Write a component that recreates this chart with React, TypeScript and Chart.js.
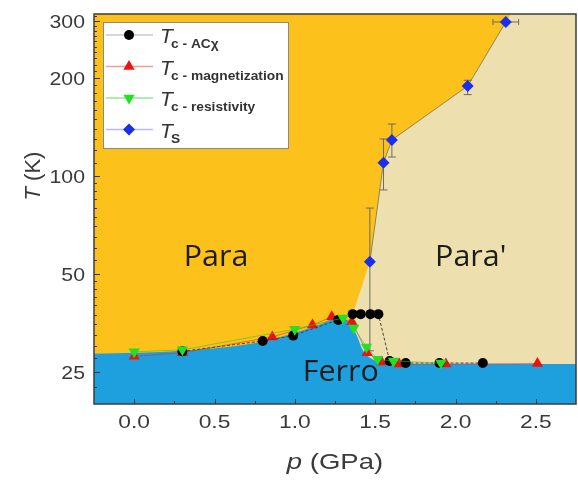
import React, { useEffect, useRef } from "react";
import { Chart, registerables } from "chart.js";

Chart.register(...registerables);

// Axis ranges
const P_MIN = -0.25;
const P_MAX = 2.75;
const T_MIN = 19.9;
const T_MAX = 315;

const pTicks = [0, 0.5, 1, 1.5, 2, 2.5];
const pMinorTicks = [0.25, 0.75, 1.25, 1.75, 2.25];
const tTicks = [25, 50, 100, 200, 300];

// Tc from AC susceptibility
const acP = [0.3, 0.8, 0.99, 1.27, 1.36, 1.41, 1.47, 1.52, 1.59, 1.69, 1.9, 2.17];
const acT = [28.9, 31.1, 32.3, 36.1, 37.6, 37.6, 37.6, 37.6, 27.0, 26.6, 26.6, 26.6];

// Tc from magnetization
const magP = [0.0, 0.3, 0.86, 1.11, 1.23, 1.355, 1.45, 1.54, 1.65, 1.94, 2.51];
const magT = [27.9, 28.6, 32.0, 34.8, 36.9, 35.6, 28.6, 26.8, 26.4, 26.4, 26.5];

// Tc from resistivity
const resP = [0.0, 0.3, 1.0, 1.3, 1.367, 1.446, 1.515, 1.614, 1.909];
const resT = [28.8, 29.2, 33.8, 36.6, 34.1, 29.8, 27.3, 27.0, 26.6];

// Structural transition Ts with error bars
const tsP = [1.467, 1.552, 1.604, 2.076, 2.313];
const tsT = [54.5, 109.9, 129.1, 189.2, 297.7];
const tsLow = [29.0, 90.6, 114.4, 178, 297.7];
const tsHigh = [79.7, 130, 144.5, 197, 297.7];
const tsPErr = [0, 0, 0, 0, 0.08];

// Phase boundaries
const ferroP = [-0.25, 0.3, 0.8, 1.16, 1.26, 1.31, 1.35, 1.39, 1.42, 1.45, 1.49, 1.56, 2.75];
const ferroT = [28.4, 29.0, 31.0, 35.0, 36.6, 36.4, 34.8, 32.0, 29.3, 28.1, 27.2, 26.4, 26.4];
const paraPrimeP = [1.36, 1.467, 1.552, 1.604, 2.076, 2.313, 2.345, 2.75];
const paraPrimeT = [37.6, 54.5, 109.9, 129.1, 189.2, 297.7, 315, 315];

// Phase names
const phaseNames = ["Para", "Para'", "Ferro"];
const phaseP = [0.51, 2.095, 1.286];
const phaseT = [55.9, 55.9, 24.8];

const ORANGE = "rgb(252,193,26)";
const BEIGE = "rgb(238,224,174)";
const BLUE = "rgb(30,160,222)";
const TEXT = "#3a3a3a";
const SANS = '"Liberation Sans", Arial, sans-serif';
const STRETCH = 1.2;

const pts = (xs: number[], ys: number[]) => xs.map((x, i) => ({ x, y: ys[i] }));

const FERRO_INDEX = 2;

const legendItems = [
  { sub: "c - ACχ", line: "#c9c9c9", style: "circle", color: "#000" },
  { sub: "c - magnetization", line: "#f59a9a", style: "up", color: "#ee1111" },
  { sub: "c - resistivity", line: "#8fea8f", style: "down", color: "#22e022" },
  { sub: "S", line: "#b9b9ee", style: "diamond", color: "#1a2ef0" },
];

function marker(ctx: CanvasRenderingContext2D, style: string, x: number, y: number, color: string) {
  ctx.save();
  ctx.fillStyle = color;
  ctx.beginPath();
  if (style === "circle") {
    ctx.arc(x, y, 5, 0, Math.PI * 2);
  } else if (style === "up" || style === "down") {
    const r = 6.5;
    const base = style === "up" ? 0 : Math.PI;
    for (let k = 0; k < 3; k++) {
      const a = base + (k * 2 * Math.PI) / 3;
      const px = x + Math.sin(a) * r;
      const py = y - Math.cos(a) * r;
      if (k === 0) ctx.moveTo(px, py);
      else ctx.lineTo(px, py);
    }
    ctx.closePath();
  } else {
    const r = 6;
    ctx.moveTo(x, y - r);
    ctx.lineTo(x + r, y);
    ctx.lineTo(x, y + r);
    ctx.lineTo(x - r, y);
    ctx.closePath();
  }
  ctx.fill();
  ctx.restore();
}

// Text made of differently styled runs, centred on x, widened by sx
function mixedText(
  ctx: CanvasRenderingContext2D,
  parts: { t: string; f: string }[],
  x: number,
  y: number,
  sx: number
) {
  let w = 0;
  for (const p of parts) {
    ctx.font = p.f;
    w += ctx.measureText(p.t).width;
  }
  ctx.save();
  ctx.translate(x, y);
  ctx.scale(sx, 1);
  let cx = -w / 2;
  ctx.textAlign = "left";
  for (const p of parts) {
    ctx.font = p.f;
    ctx.fillText(p.t, cx, 0);
    cx += ctx.measureText(p.t).width;
  }
  ctx.restore();
}

function wideText(
  ctx: CanvasRenderingContext2D,
  t: string,
  x: number,
  y: number,
  align: CanvasTextAlign,
  sx: number
) {
  ctx.save();
  ctx.translate(x, y);
  ctx.scale(sx, 1);
  ctx.textAlign = align;
  ctx.fillText(t, 0, 0);
  ctx.restore();
}

const overlay = {
  id: "overlay",
  afterDatasetDraw(chart: any, args: any) {
    if (args.index !== FERRO_INDEX) return;
    const ctx: CanvasRenderingContext2D = chart.ctx;
    const xs = chart.scales.x;
    const ys = chart.scales.y;
    ctx.save();
    // phase names
    ctx.fillStyle = "#1c1c1c";
    ctx.font = '29px "Open Sans", sans-serif';
    ctx.textBaseline = "middle";
    phaseNames.forEach((name, i) => {
      wideText(ctx, name, xs.getPixelForValue(phaseP[i]), ys.getPixelForValue(phaseT[i]), "center", 1.05);
    });
    // Ts error bars
    ctx.strokeStyle = "#6a6a6a";
    ctx.lineWidth = 1;
    tsP.forEach((p, i) => {
      const px = xs.getPixelForValue(p);
      const py = ys.getPixelForValue(tsT[i]);
      if (tsHigh[i] !== tsLow[i]) {
        const y1 = ys.getPixelForValue(tsLow[i]);
        const y2 = ys.getPixelForValue(tsHigh[i]);
        ctx.beginPath();
        ctx.moveTo(px, y1);
        ctx.lineTo(px, y2);
        ctx.moveTo(px - 4, y1);
        ctx.lineTo(px + 4, y1);
        ctx.moveTo(px - 4, y2);
        ctx.lineTo(px + 4, y2);
        ctx.stroke();
      }
      if (tsPErr[i] > 0) {
        const x1 = xs.getPixelForValue(p - tsPErr[i]);
        const x2 = xs.getPixelForValue(p + tsPErr[i]);
        ctx.beginPath();
        ctx.moveTo(x1, py);
        ctx.lineTo(x2, py);
        ctx.moveTo(x1, py - 3);
        ctx.lineTo(x1, py + 3);
        ctx.moveTo(x2, py - 3);
        ctx.lineTo(x2, py + 3);
        ctx.stroke();
      }
    });
    ctx.restore();
  },
  afterDraw(chart: any) {
    const ctx: CanvasRenderingContext2D = chart.ctx;
    const a = chart.chartArea;
    const xs = chart.scales.x;
    const ys = chart.scales.y;
    ctx.save();

    // inward tick marks
    ctx.strokeStyle = "#333";
    ctx.lineWidth = 1;
    ctx.beginPath();
    pTicks.forEach((v) => {
      const x = Math.round(xs.getPixelForValue(v)) + 0.5;
      ctx.moveTo(x, a.bottom);
      ctx.lineTo(x, a.bottom - 5);
    });
    pMinorTicks.forEach((v) => {
      const x = Math.round(xs.getPixelForValue(v)) + 0.5;
      ctx.moveTo(x, a.bottom);
      ctx.lineTo(x, a.bottom - 3);
    });
    const minor: number[] = [];
    for (let t = 22.5; t < 50; t += 2.5) minor.push(t);
    for (let t = 55; t < 100; t += 5) minor.push(t);
    for (let t = 110; t <= 310; t += 10) minor.push(t);
    minor.forEach((v) => {
      const y = Math.round(ys.getPixelForValue(v)) + 0.5;
      ctx.moveTo(a.left, y);
      ctx.lineTo(a.left + 3, y);
    });
    tTicks.forEach((v) => {
      const y = Math.round(ys.getPixelForValue(v)) + 0.5;
      ctx.moveTo(a.left, y);
      ctx.lineTo(a.left + 6, y);
    });
    ctx.stroke();

    // frame
    ctx.strokeStyle = "#3c3c3c";
    ctx.lineWidth = 1.5;
    ctx.strokeRect(a.left, a.top, a.right - a.left, a.bottom - a.top);

    // tick labels
    ctx.fillStyle = TEXT;
    ctx.textBaseline = "alphabetic";
    ctx.font = `19px ${SANS}`;
    pTicks.forEach((v) => {
      wideText(ctx, v.toFixed(1), xs.getPixelForValue(v), 428, "center", STRETCH);
    });
    tTicks.forEach((v) => {
      wideText(ctx, String(v), 85, ys.getPixelForValue(v) + 7, "right", 1.12);
    });

    // axis titles
    mixedText(
      ctx,
      [
        { t: "p", f: `italic 22px ${SANS}` },
        { t: " (GPa)", f: `22px ${SANS}` },
      ],
      (a.left + a.right) / 2,
      469,
      1.25
    );
    ctx.save();
    ctx.translate(34, ys.getPixelForValue(100));
    ctx.rotate(-Math.PI / 2);
    ctx.textBaseline = "middle";
    mixedText(
      ctx,
      [
        { t: "T", f: `italic 22px ${SANS}` },
        { t: " (K)", f: `22px ${SANS}` },
      ],
      0,
      0,
      1
    );
    ctx.restore();

    // legend
    const lx = 103, ly = 22, lw = 185, lh = 126;
    ctx.fillStyle = "#fff";
    ctx.fillRect(lx, ly, lw, lh);
    ctx.strokeStyle = "#8a8a8a";
    ctx.lineWidth = 1;
    ctx.strokeRect(lx + 0.5, ly + 0.5, lw, lh);
    legendItems.forEach((it, i) => {
      const ry = 35 + i * 31.5;
      ctx.strokeStyle = it.line;
      ctx.lineWidth = 1.5;
      ctx.beginPath();
      ctx.moveTo(106, ry);
      ctx.lineTo(153, ry);
      ctx.stroke();
      marker(ctx, it.style, 129, ry, it.color);
      ctx.fillStyle = "#333";
      ctx.textAlign = "left";
      ctx.textBaseline = "alphabetic";
      ctx.font = `italic 21px ${SANS}`;
      ctx.fillText("T", 160, ry + 8);
      ctx.font = `bold 13px ${SANS}`;
      wideText(ctx, it.sub, 171, ry + 13, "left", 1.06);
    });

    ctx.restore();
  },
};

export default function App() {
  const ref = useRef<HTMLCanvasElement>(null);

  useEffect(() => {
    const canvas = ref.current;
    if (!canvas) return;
    const region = (data: any, color: string, order: number, mode: string) => ({
      type: "line",
      data,
      backgroundColor: color,
      borderWidth: 0,
      borderColor: "rgba(0,0,0,0)",
      pointRadius: 0,
      fill: "start",
      order,
      cubicInterpolationMode: mode,
    });
    const chart = new Chart(canvas, {
      type: "line",
      data: {
        datasets: [
          region(pts([P_MIN, P_MAX], [T_MAX, T_MAX]), ORANGE, 10, "default") as any,
          region(pts(paraPrimeP, paraPrimeT), BEIGE, 9, "default") as any,
          region(pts(ferroP, ferroT), BLUE, 8, "monotone") as any,
          {
            label: "Ts",
            data: pts(tsP, tsT),
            showLine: true,
            borderColor: "rgba(130,118,90,0.85)",
            borderWidth: 1,
            pointStyle: "rectRot",
            pointRadius: 6,
            pointBackgroundColor: "#1a2ef0",
            pointBorderColor: "#1a2ef0",
            pointBorderWidth: 0,
            fill: false,
            order: 4,
          },
          {
            label: "Tc magnetization",
            data: pts(magP, magT),
            showLine: true,
            borderColor: "rgba(220,40,40,0.55)",
            borderWidth: 1,
            pointStyle: "triangle",
            pointRadius: 6.5,
            pointBackgroundColor: "#ee1111",
            pointBorderColor: "#ee1111",
            pointBorderWidth: 0,
            fill: false,
            order: 3,
          },
          {
            label: "Tc ACχ",
            data: pts(acP, acT),
            showLine: true,
            borderColor: "#444",
            borderWidth: 1,
            borderDash: [3, 2],
            pointStyle: "circle",
            pointRadius: 5,
            pointBackgroundColor: "#000",
            pointBorderColor: "#000",
            pointBorderWidth: 0,
            fill: false,
            order: 2,
          },
          {
            label: "Tc resistivity",
            data: pts(resP, resT),
            showLine: true,
            borderColor: "rgba(40,200,40,0.55)",
            borderWidth: 1,
            pointStyle: "triangle",
            rotation: 180,
            pointRadius: 6.5,
            pointBackgroundColor: "#22e022",
            pointBorderColor: "#22e022",
            pointBorderWidth: 0,
            fill: false,
            order: 1,
          },
        ],
      },
      options: {
        animation: false,
        responsive: false,
        maintainAspectRatio: false,
        layout: { autoPadding: false, padding: { top: 14, right: 2, left: 0, bottom: 0 } },
        plugins: {
          legend: { display: false },
          tooltip: { enabled: false },
        },
        scales: {
          x: {
            type: "linear",
            min: P_MIN,
            max: P_MAX,
            grid: { display: false, drawTicks: false },
            border: { display: false },
            ticks: { display: false },
            afterBuildTicks: (s: any) => {
              s.ticks = pTicks.map((value) => ({ value }));
            },
            afterFit: (s: any) => {
              s.height = 77;
              s.paddingLeft = 0;
              s.paddingRight = 0;
            },
          },
          y: {
            type: "logarithmic",
            min: T_MIN,
            max: T_MAX,
            grid: { display: false, drawTicks: false },
            border: { display: false },
            ticks: { display: false },
            afterBuildTicks: (s: any) => {
              s.ticks = tTicks.map((value) => ({ value }));
            },
            afterFit: (s: any) => {
              s.width = 94;
              s.paddingTop = 0;
              s.paddingBottom = 0;
            },
          },
        },
      } as any,
      plugins: [overlay],
    });
    return () => chart.destroy();
  }, []);

  return (
    <div style={{ position: "absolute", left: 0, top: 0, width: 578, height: 481, background: "#fff" }}>
      <canvas ref={ref} width={578} height={481} style={{ display: "block", width: 578, height: 481 }} />
    </div>
  );
}
